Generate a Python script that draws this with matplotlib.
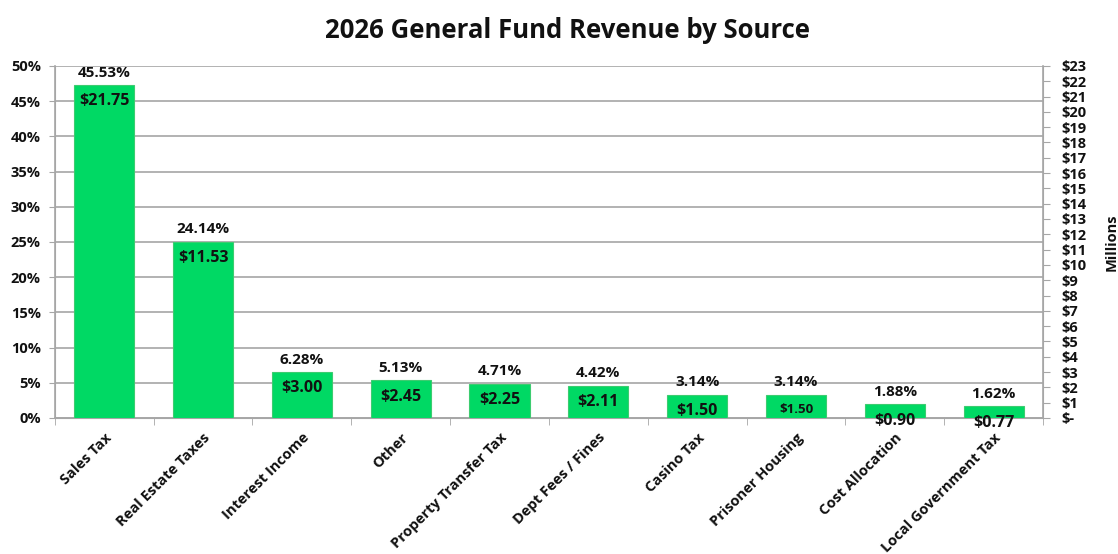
import numpy as np
import matplotlib.pyplot as plt
from matplotlib.ticker import FixedLocator, FuncFormatter

# data
categories = ["Sales Tax", "Real Estate Taxes", "Interest Income", "Other",
              "Property Transfer Tax", "Dept Fees / Fines", "Casino Tax",
              "Prisoner Housing", "Cost Allocation", "Local Government Tax"]
revenue_millions = [21.75, 11.53, 3.00, 2.45, 2.25, 2.11, 1.50, 1.50, 0.90, 0.77]
share_pct = [45.53, 24.14, 6.28, 5.13, 4.71, 4.42, 3.14, 3.14, 1.88, 1.62]

plt.rcParams['font.family'] = ['Open Sans', 'DejaVu Sans']
plt.rcParams['font.weight'] = 'bold'

fig = plt.figure(figsize=(11.18, 5.54), dpi=100)
ax = fig.add_axes([0.049, 0.2455, 0.884, 0.6355])
ax2 = ax.twinx()

x = np.arange(len(categories))
grid_col = '#A6A6A6'
txt_col = '#111111'

# left axis: percent scale with gridlines
ax.set_ylim(0, 50)
ax.set_xlim(-0.5, len(categories) - 0.5)
ax.set_yticks(np.arange(0, 51, 5))
ax.yaxis.set_major_formatter(FuncFormatter(lambda v, p: f"{int(v)}%"))
ax.grid(axis='y', color=grid_col, linewidth=1.2)
ax.set_axisbelow(True)
ax.tick_params(axis='y', labelsize=10.5, length=4, color=grid_col, pad=6, labelcolor=txt_col)

# x ticks: labels at centres, marks at boundaries
ax.set_xticks(x)
ax.set_xticklabels(categories, rotation=45, ha='right', rotation_mode='anchor',
                   fontsize=10.5, fontweight='bold', color=txt_col)
ax.tick_params(axis='x', which='major', length=0, pad=9)
ax.xaxis.set_minor_locator(FixedLocator(np.arange(-0.5, len(categories), 1.0)))
ax.tick_params(axis='x', which='minor', length=5, color=grid_col)

ax.spines['top'].set_visible(False)
ax2.spines['top'].set_visible(False)
for s in ['left', 'bottom', 'right']:
    ax.spines[s].set_color(grid_col)
    ax2.spines[s].set_color(grid_col)
    ax2.spines[s].set_linewidth(1.2)

# right axis: millions scale, bars drawn here
ax2.set_ylim(0, 23)
ax2.set_yticks(np.arange(0, 24, 1))
ax2.yaxis.set_major_formatter(FuncFormatter(lambda v, p: "$-" if v == 0 else f"${int(v)}"))
ax2.tick_params(axis='y', labelsize=10.5, length=5, color=grid_col, pad=8, labelcolor=txt_col)
ax2.set_ylabel("Millions", fontsize=10.5, fontweight='bold', labelpad=13, color=txt_col)

bars = ax2.bar(x, revenue_millions, width=0.61, color='#00D964',
               edgecolor='#3DCC70', linewidth=0.8, zorder=3)

for i, (b, v, p) in enumerate(zip(bars, revenue_millions, share_pct)):
    top = b.get_height()
    cx = b.get_x() + b.get_width() / 2
    ax2.annotate(f"{p:.2f}%", (cx, top), xytext=(0, 4), textcoords='offset points',
                 ha='center', va='bottom', fontsize=11, fontweight='bold', color=txt_col)
    ax2.annotate(f"${v:.2f}", (cx, top), xytext=(0, -6), textcoords='offset points',
                 ha='center', va='top',
                 fontsize=11.5 if categories[i] != "Prisoner Housing" else 9.5,
                 fontweight='bold', color=txt_col, zorder=4)

fig.suptitle("2026 General Fund Revenue by Source", fontsize=18.5, fontweight='bold',
             y=0.97, x=0.508, color=txt_col)

fig.savefig("out.png", dpi=100)
